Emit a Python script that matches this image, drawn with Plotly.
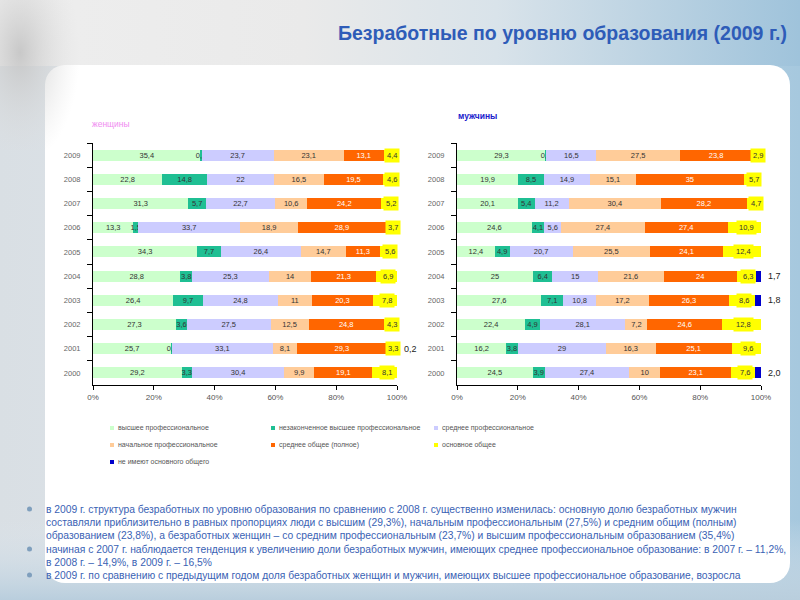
import base64
import plotly.graph_objects as go

# ---------------- data ----------------
years = ["2009", "2008", "2007", "2006", "2005", "2004", "2003", "2002", "2001", "2000"]

series_names = [
    "высшее профессиональное",
    "незаконченное высшее профессиональное",
    "среднее профессиональное",
    "начальное профессиональное",
    "среднее общее (полное)",
    "основное общее",
    "не имеют основного общего",
]
series_colors = ["#ccffcc", "#1fbf93", "#ccccff", "#ffcc99", "#ff6600", "#ffff00", "#0000cc"]

# women, top (2009) to bottom (2000)
w_vyssh = [35.4, 22.8, 31.3, 13.3, 34.3, 28.8, 26.4, 27.3, 25.7, 29.2]
w_nezak = [0.3, 14.8, 5.7, 1.5, 7.7, 3.8, 9.7, 3.6, 0.3, 3.3]
w_sredprof = [23.7, 22.0, 22.7, 33.7, 26.4, 25.3, 24.8, 27.5, 33.1, 30.4]
w_nachprof = [23.1, 16.5, 10.6, 18.9, 14.7, 14.0, 11.0, 12.5, 8.1, 9.9]
w_sredob = [13.1, 19.5, 24.2, 28.9, 11.3, 21.3, 20.3, 24.8, 29.3, 19.1]
w_osnov = [4.4, 4.6, 5.2, 3.7, 5.6, 6.9, 7.8, 4.3, 3.3, 8.1]
w_net = [0, 0, 0, 0, 0, 0, 0, 0, 0.2, 0]

# men, top (2009) to bottom (2000)
m_vyssh = [29.3, 19.9, 20.1, 24.6, 12.4, 25.0, 27.6, 22.4, 16.2, 24.5]
m_nezak = [0.1, 8.5, 5.4, 4.1, 4.9, 6.4, 7.1, 4.9, 3.8, 3.9]
m_sredprof = [16.5, 14.9, 11.2, 5.6, 20.7, 15.0, 10.8, 28.1, 29.0, 27.4]
m_nachprof = [27.5, 15.1, 30.4, 27.4, 25.5, 21.6, 17.2, 7.2, 16.3, 10.0]
m_sredob = [23.8, 35.0, 28.2, 27.4, 24.1, 24.0, 26.3, 24.6, 25.1, 23.1]
m_osnov = [2.9, 5.7, 4.7, 10.9, 12.4, 6.3, 8.6, 12.8, 9.6, 7.6]
m_net = [0, 0, 0, 0, 0, 1.7, 1.8, 0, 0, 2.0]

x_ticks = [0, 20, 40, 60, 80, 100]
x_ticktext = ["0%", "20%", "40%", "60%", "80%", "100%"]

title_text = "Безработные по уровню образования (2009 г.)"
women_label = "женщины"
men_label = "мужчины"
bullet_lines = [
    ["в 2009 г. структура безработных по уровню образования по сравнению с 2008 г. существенно изменилась: основную долю безработных мужчин",
     "составляли приблизительно в равных пропорциях люди с высшим (29,3%), начальным профессиональным (27,5%) и средним общим (полным)",
     "образованием (23,8%), а безработных женщин – со средним профессиональным (23,7%) и высшим профессиональным образованием (35,4%)"],
    ["начиная с 2007 г. наблюдается тенденция к увеличению доли безработных мужчин, имеющих среднее профессиональное образование: в 2007 г. – 11,2%,",
     "в 2008 г. – 14,9%, в 2009 г. – 16,5%"],
    ["в 2009 г. по сравнению с предыдущим годом доля безработных женщин и мужчин, имеющих высшее профессиональное образование, возросла"],
]

women = [w_vyssh, w_nezak, w_sredprof, w_nachprof, w_sredob, w_osnov, w_net]
men = [m_vyssh, m_nezak, m_sredprof, m_nachprof, m_sredob, m_osnov, m_net]

W, H = 800, 600
FONT = "Liberation Sans, Arial, sans-serif"


def px(x):
    return x / W


def py(y):
    return 1 - y / H


def fmt(v):
    s = f"{v:.1f}"
    if s.endswith(".0"):
        s = s[:-2]
    return s.replace(".", ",")


def fmt1(v):
    return f"{v:.1f}".replace(".", ",")


DOM_W = (93, 397)
DOM_M = (457, 761)

fig = go.Figure()
annotations = []

for data, xa, ya, dom in [(women, "x", "y", DOM_W), (men, "x2", "y2", DOM_M)]:
    totals = [sum(col) for col in zip(*data)]
    cum = [0.0] * len(years)
    for i, vals in enumerate(data):
        if i >= 5:
            kw = dict(textposition="none")
        else:
            txt = [fmt(v) for v in vals]
            kw = dict(text=txt, textposition="inside", insidetextanchor="middle",
                      textfont=dict(size=7.5, color="#ffffff" if i == 4 else "#333333", family=FONT))
        fig.add_trace(go.Bar(
            y=years, x=vals, orientation="h", name=series_names[i],
            marker=dict(color=series_colors[i], line=dict(width=0)),
            xaxis=xa, yaxis=ya, showlegend=False, constraintext="none",
            textangle=0, cliponaxis=False, hoverinfo="skip", **kw))
        if i == 5:
            for j, v in enumerate(vals):
                centre = (cum[j] + v / 2) / totals[j] * 100
                annotations.append(dict(
                    x=centre + 0.6, y=j, xref=xa, yref=ya, text=fmt(v),
                    showarrow=False, bgcolor="#ffff00", borderpad=2,
                    font=dict(size=7.5, color="#333333", family=FONT)))
        if i == 6:
            for j, v in enumerate(vals):
                if v > 0:
                    end_pct = (cum[j] + v) / totals[j] * 100
                    xp = dom[0] + end_pct / 100 * (dom[1] - dom[0]) + 5
                    annotations.append(dict(
                        x=px(xp), y=j, xref="paper", yref=ya,
                        text=fmt1(v), showarrow=False, xanchor="left",
                        font=dict(size=9, color="#222222", family=FONT)))
        cum = [c + v for c, v in zip(cum, vals)]

axis_x = dict(range=[0, 100], tickvals=x_ticks, ticktext=x_ticktext, showgrid=False,
              zeroline=False, showline=True, linecolor="#000000", linewidth=1,
              ticks="outside", ticklen=4, tickcolor="#000000", automargin=False,
              tickfont=dict(size=8, color="#555555", family=FONT))
axis_y = dict(type="category", categoryorder="array", categoryarray=years,
              range=[9.5, -0.5], autorange=False, showgrid=False, zeroline=False, showline=True,
              linecolor="#000000", linewidth=1, ticks="outside", ticklen=5,
              tickcolor="#000000", tickson="boundaries", automargin=False,
              ticklabelstandoff=10,
              tickfont=dict(size=7.5, color="#666666", family=FONT))

ydom = [py(385), py(143)]

# ---- background as svg image ----
svg = f'''<svg xmlns="http://www.w3.org/2000/svg" width="{W}" height="{H}" preserveAspectRatio="none">
<defs>
<linearGradient id="bg" x1="0" y1="0" x2="1" y2="0">
<stop offset="0" stop-color="#d9dfe4"/><stop offset="0.5" stop-color="#dfe7ee"/><stop offset="1" stop-color="#a6c8de"/></linearGradient>
<linearGradient id="hd" x1="0" y1="0" x2="1" y2="0">
<stop offset="0" stop-color="#eeeeee"/><stop offset="0.38" stop-color="#eaeaea"/><stop offset="0.62" stop-color="#d9e3ea"/><stop offset="1" stop-color="#9fc3db"/></linearGradient>
<linearGradient id="bt" x1="0" y1="0" x2="0" y2="1">
<stop offset="0" stop-color="#dfe7ee" stop-opacity="0"/><stop offset="1" stop-color="#b9cedd"/></linearGradient>
<radialGradient id="orn" cx="0.25" cy="0.35" r="0.75">
<stop offset="0" stop-color="#c4c4c4" stop-opacity="0.9"/><stop offset="1" stop-color="#e0e0e0" stop-opacity="0"/></radialGradient>
</defs>
<rect width="{W}" height="{H}" fill="url(#bg)"/>
<rect y="520" width="{W}" height="80" fill="url(#bt)"/>
<rect width="{W}" height="66" fill="url(#hd)"/>
<rect x="45" y="65" width="745" height="518" rx="20" ry="20" fill="#ffffff"/>
<rect x="0" y="0" width="80" height="150" fill="url(#orn)"/>
</svg>'''
src = "data:image/svg+xml;base64," + base64.b64encode(svg.encode("utf-8")).decode("ascii")

shapes = []
# legend (manual)
leg_cols = [112, 273, 436]
leg_rows = [428, 445, 462]
for k, name in enumerate(series_names):
    cx = leg_cols[k % 3]
    cy = leg_rows[k // 3]
    shapes.append(dict(type="rect", xref="paper", yref="paper",
                       x0=px(cx - 2), x1=px(cx + 2), y0=py(cy + 2), y1=py(cy - 2),
                       fillcolor=series_colors[k], line=dict(width=0)))
    annotations.append(dict(x=px(cx + 4), y=py(cy), xref="paper", yref="paper",
                            text=name, showarrow=False, xanchor="left", yanchor="middle",
                            font=dict(size=7, color="#555555", family=FONT)))

# titles
annotations.append(dict(x=px(562), y=py(33), xref="paper", yref="paper", text=f"<b>{title_text}</b>",
                        showarrow=False, xanchor="center", yanchor="middle",
                        font=dict(size=19.5, color="#2e5cb8", family=FONT)))
annotations.append(dict(x=px(90), y=py(124), xref="paper", yref="paper", text=women_label,
                        showarrow=False, xanchor="left", yanchor="middle",
                        font=dict(size=8.5, color="#f08cf0", family=FONT)))
annotations.append(dict(x=px(456), y=py(116), xref="paper", yref="paper", text=f"<b>{men_label}</b>",
                        showarrow=False, xanchor="left", yanchor="middle",
                        font=dict(size=8.5, color="#1a1acc", family=FONT)))

# bullet text
line_y = [[509, 522, 535], [549, 562], [575]]
for lines, ys in zip(bullet_lines, line_y):
    shapes.append(dict(type="circle", xref="paper", yref="paper",
                       x0=px(27), x1=px(32), y0=py(ys[0] + 2.5), y1=py(ys[0] - 2.5),
                       fillcolor="#7f9fbd", line=dict(width=0)))
    for t, yv in zip(lines, ys):
        annotations.append(dict(x=px(44), y=py(yv), xref="paper", yref="paper", text=t,
                                showarrow=False, xanchor="left", yanchor="middle",
                                font=dict(size=10.3, color="#3a62b4", family=FONT)))

fig.update_layout(
    width=W, height=H, autosize=False,
    margin=dict(l=0, r=0, t=0, b=0, pad=0, autoexpand=False),
    paper_bgcolor="#ffffff", plot_bgcolor="rgba(0,0,0,0)",
    showlegend=False,
    barmode="stack", barnorm="percent", bargap=0.54,
    xaxis=dict(domain=[px(DOM_W[0]), px(DOM_W[1])], anchor="y", **axis_x),
    yaxis=dict(domain=ydom, anchor="x", **axis_y),
    xaxis2=dict(domain=[px(DOM_M[0]), px(DOM_M[1])], anchor="y2", **axis_x),
    yaxis2=dict(domain=ydom, anchor="x2", **axis_y),
    images=[dict(source=src, xref="paper", yref="paper", x=0, y=1, sizex=1, sizey=1,
                 xanchor="left", yanchor="top", sizing="stretch", layer="below")],
    shapes=shapes, annotations=annotations,
    font=dict(family=FONT),
)

fig.write_html(
    "out.html",
    config={"displayModeBar": False},
    post_script="document.body.style.margin='0';document.body.style.overflow='hidden';",
)
